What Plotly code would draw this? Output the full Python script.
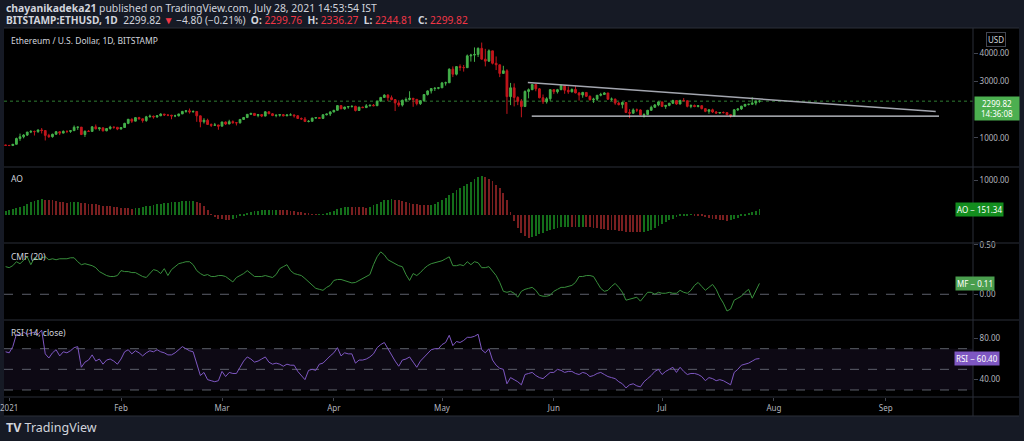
import pandas as pd
import plotly.graph_objects as go

# daily candles, Dec 31 2020 .. Jul 28 2021 (BITSTAMP:ETHUSD, 1D)
dates = pd.date_range("2020-12-31", "2021-07-28", freq="D")

closes = [
    737,
    730, 775, 979, 1041, 1100, 1208, 1225, 1224, 1281, 1262, 1090, 1044, 1130, 1218, 1171, 1233,
    1230, 1257, 1377, 1382, 1121, 1236, 1231, 1392, 1324, 1357, 1253, 1332, 1382, 1377, 1314,
    1369, 1515, 1660, 1594, 1718, 1677, 1614, 1746, 1768, 1744, 1783, 1843, 1814, 1804, 1779,
    1781, 1848, 1938, 1960, 1919, 1935, 1781, 1570, 1626, 1475, 1446, 1459, 1416,
    1564, 1492, 1575, 1541, 1533, 1654, 1723, 1834, 1868, 1795, 1826, 1772, 1924, 1855, 1792,
    1806, 1823, 1782, 1812, 1813, 1784, 1687, 1669, 1582, 1588, 1702, 1717, 1691, 1819, 1846, 1919,
    1977, 2143, 2028, 2093, 2108, 2118, 1971, 2088, 2072, 2135, 2158, 2139, 2299, 2432, 2514,
    2423, 2356, 2237, 2162, 2331, 2358, 2402, 2364, 2211, 2317, 2534, 2662, 2746, 2756, 2773,
    2945, 2950, 3431, 3253, 3522, 3490, 3484, 3902, 3928, 3952, 4168, 3785, 3715, 4079, 3640,
    3586, 3282, 3374, 2460, 2772, 2430, 2295, 2109, 2643, 2706, 2888, 2736, 2420, 2278, 2387, 2707,
    2634, 2706, 2856, 2688, 2630, 2715, 2590, 2517, 2608, 2472, 2353, 2372, 2508, 2537, 2590,
    2369, 2373, 2231, 2178, 2253, 1900, 1874, 1990, 1989, 1814, 1829, 1978, 2084, 2165, 2274,
    2114, 2150, 2226, 2321, 2198, 2324, 2315, 2116, 2146, 2111, 2140, 2036, 1940, 1995,
    1917, 1880, 1899, 1896, 1822, 1787, 1994, 2025, 2124, 2188, 2190, 2232, 2299.76, 2299.82,
]

highs = [
    754,
    749, 787, 1011, 1153, 1134, 1210, 1280, 1262, 1300, 1349, 1262, 1145, 1150, 1245, 1235, 1265,
    1260, 1265, 1440, 1395, 1383, 1262, 1278, 1420, 1475, 1365, 1362, 1345, 1430, 1395, 1385,
    1375, 1535, 1665, 1690, 1734, 1746, 1680, 1780, 1825, 1788, 1798, 1873, 1850, 1820, 1815,
    1820, 1850, 1955, 1972, 2040, 1975, 1940, 1785, 1700, 1680, 1512, 1530, 1462,
    1573, 1580, 1642, 1620, 1548, 1670, 1735, 1837, 1870, 1875, 1840, 1838, 1940, 1930, 1880,
    1815, 1835, 1845, 1830, 1870, 1825, 1810, 1723, 1740, 1630, 1711, 1730, 1737, 1838, 1852, 1945,
    1990, 2155, 2145, 2100, 2120, 2150, 2135, 2100, 2105, 2197, 2165, 2200, 2315, 2450, 2545,
    2547, 2500, 2360, 2330, 2355, 2430, 2650, 2410, 2372, 2328, 2544, 2680, 2760, 2795, 2798,
    2980, 2990, 3460, 3530, 3540, 3600, 3580, 3950, 3975, 4200, 4200, 4372, 4150, 4130, 4080,
    3880, 3590, 3550, 3430, 2945, 2930, 2475, 2375, 2680, 2750, 2910, 2890, 2760, 2535, 2440, 2720,
    2720, 2735, 2895, 2860, 2820, 2750, 2840, 2620, 2630, 2620, 2500, 2420, 2515, 2595, 2620,
    2590, 2430, 2390, 2270, 2280, 2260, 2020, 2045, 2040, 2010, 1870, 1990, 2140, 2200, 2290,
    2275, 2155, 2240, 2350, 2325, 2350, 2410, 2320, 2190, 2180, 2160, 2160, 2040, 2000,
    2035, 1950, 1915, 1935, 1905, 1830, 2020, 2045, 2135, 2200, 2195, 2440, 2320, 2336.27,
]

lows = [
    714,
    716, 715, 771, 897, 985, 1067, 1170, 1085, 1177, 1158, 910, 1000, 1010, 1118, 1100, 1160,
    1170, 1180, 1250, 1285, 1100, 1035, 1215, 1220, 1300, 1255, 1225, 1235, 1290, 1325, 1275,
    1296, 1355, 1487, 1530, 1590, 1643, 1540, 1570, 1725, 1681, 1710, 1770, 1775, 1770, 1660,
    1735, 1760, 1846, 1890, 1860, 1906, 1570, 1375, 1508, 1465, 1385, 1427, 1290,
    1410, 1455, 1488, 1500, 1440, 1510, 1640, 1700, 1820, 1785, 1730, 1735, 1765, 1850, 1770,
    1730, 1755, 1765, 1770, 1805, 1720, 1676, 1652, 1570, 1550, 1588, 1685, 1680, 1680, 1797, 1775,
    1904, 1970, 2020, 1998, 2033, 2075, 1936, 1962, 2055, 2063, 2116, 2120, 2139, 2290, 2420,
    2300, 2330, 1950, 2100, 2110, 2265, 2325, 2100, 2150, 2165, 2283, 2500, 2570, 2660, 2720,
    2770, 2850, 2950, 3150, 3210, 3375, 3345, 3480, 3700, 3690, 3860, 3770, 3530, 3690, 3600,
    3400, 3150, 3270, 1850, 2160, 2115, 2160, 1730, 2100, 2400, 2690, 2650, 2400, 2200, 2215, 2310,
    2550, 2570, 2690, 2560, 2560, 2610, 2580, 2320, 2420, 2450, 2320, 2240, 2310, 2470, 2520,
    2350, 2310, 2170, 2150, 2045, 1880, 1700, 1860, 1915, 1800, 1720, 1810, 1955, 2065, 2120,
    2090, 2030, 2120, 2200, 2170, 2190, 2300, 2080, 2050, 2085, 2080, 2010, 1910, 1855,
    1885, 1855, 1860, 1865, 1805, 1718, 1760, 1950, 1990, 2110, 2150, 2180, 2155, 2244.81,
]

first_open = 751
opens = [first_open] + closes[:-1]  # each daily bar opens at the previous close

ao_values = [
    120, 140, 170, 200, 220, 260, 310, 360, 400, 420,
    440, 435, 425, 410, 395, 380, 365, 350, 352, 356,
    358, 345, 330, 320, 305, 295, 280, 265, 250, 240,
    225, 210, 200, 190, 180, 175, 185, 200, 220, 240,
    260, 285, 305, 320, 335, 350, 362, 372, 380, 385,
    388, 390, 392, 380, 330, 240, 130, 20, -60, -110,
    -135, -145, -150, -130, -90, -50, -10, 30, 70, 100,
    115, 125, 130, 133, 135, 137, 136, 132, 125, 115,
    100, 85, 65, 45, 25, 10, 2, 5, 20, 45,
    75, 110, 150, 190, 220, 230, 225, 220, 215, 210,
    205, 230, 270, 320, 370, 410, 435, 445, 430, 410,
    390, 370, 345, 320, 300, 285, 272, 268, 285, 320,
    370, 430, 490, 560, 630, 700, 760, 820, 880, 950,
    1020, 1080, 1130, 1100, 1040, 960, 870, 760, 620, 420,
    70, -180, -380, -520, -620, -660, -650, -620, -570, -520,
    -470, -430, -400, -380, -360, -355, -350, -355, -360, -350,
    -345, -350, -360, -375, -390, -405, -420, -435, -445, -455,
    -465, -475, -485, -492, -498, -502, -505, -500, -480, -440,
    -390, -330, -270, -210, -160, -110, -70, -40, -20, -10,
    -5, -15, -30, -50, -70, -90, -110, -130, -150, -165,
    -175, -160, -130, -90, -50, -10, 30, 70, 110, 151.34,
]

cmf_values = [
    0.28, 0.27, 0.29, 0.33, 0.31, 0.35, 0.38, 0.30, 0.37, 0.35,
    0.37, 0.38, 0.35, 0.36, 0.35, 0.36, 0.36, 0.36, 0.37, 0.37,
    0.33, 0.30, 0.31, 0.30, 0.29, 0.27, 0.23, 0.21, 0.19, 0.18,
    0.18, 0.19, 0.24, 0.23, 0.23, 0.22, 0.22, 0.20, 0.18, 0.17,
    0.21, 0.25, 0.24, 0.21, 0.26, 0.19, 0.25, 0.28, 0.31, 0.32,
    0.33, 0.33, 0.30, 0.24, 0.21, 0.19, 0.20, 0.18, 0.18, 0.19,
    0.19, 0.18, 0.15, 0.125, 0.17, 0.19, 0.21, 0.24, 0.21, 0.18,
    0.18, 0.18, 0.19, 0.18, 0.17, 0.20, 0.26, 0.28, 0.30, 0.24,
    0.21, 0.20, 0.19, 0.16, 0.125, 0.09, 0.06, 0.05, 0.04, 0.07,
    0.09, 0.14, 0.15, 0.15, 0.14, 0.13, 0.115, 0.12, 0.14, 0.16,
    0.18, 0.20, 0.30, 0.38, 0.43, 0.40, 0.35, 0.33, 0.31, 0.29,
    0.28, 0.20, 0.14, 0.21, 0.19, 0.22, 0.26, 0.29, 0.31, 0.32,
    0.33, 0.34, 0.36, 0.38, 0.29, 0.29, 0.30, 0.29, 0.33, 0.30,
    0.33, 0.32, 0.27, 0.27, 0.28, 0.24, 0.19, 0.12, 0.03, 0.02,
    0.03, 0.01, -0.03, 0.03, 0.05, 0.06, 0.07, 0.04, -0.01, -0.02,
    -0.02, -0.01, 0.03, 0.05, 0.07, 0.07, 0.08, 0.09, 0.12, 0.18,
    0.18, 0.19, 0.19, 0.18, 0.12, 0.06, 0.03, 0.04, 0.08, 0.11,
    0.07, 0.02, -0.06, -0.05, -0.04, -0.03, -0.07, -0.02, 0.02, 0.02,
    0.00, 0.02, 0.01, 0.01, 0.02, 0.01, 0.01, 0.04, 0.02, 0.01,
    0.04, 0.09, 0.12, 0.08, 0.04, 0.07, 0.10, 0.05, -0.03, -0.09,
    -0.17, -0.15, -0.06, -0.04, -0.02, 0.02, 0.05, -0.04, 0.03, 0.11,
]

rsi_values = [
    67, 66, 72, 84, 83, 86, 84, 85, 86, 84,
    88, 65, 61, 66, 69, 63, 67, 66, 68, 71,
    72, 52, 57, 59, 64, 58, 60, 55, 59, 60,
    58, 55, 60, 67, 69, 65, 68, 66, 63, 66,
    68, 67, 69, 67, 66, 64, 64, 66, 69, 72,
    70, 68, 67, 56, 44, 47, 40, 39, 38, 39,
    48, 43, 47, 46, 46, 52, 58, 62, 60, 57,
    58, 60, 62, 57, 55, 56, 55, 53, 55, 54,
    54, 48, 44, 40, 49, 50, 49, 55, 56, 60,
    63, 66, 71, 63, 66, 65, 65, 56, 59, 59,
    60, 62, 65, 71, 74, 76, 70, 63, 58, 53,
    59, 60, 62, 57, 52, 58, 62, 66, 69, 70,
    70, 74, 76, 83, 73, 77, 76, 78, 81, 81,
    82, 84, 69, 66, 70, 59, 54, 51, 50, 36,
    42, 40, 38, 35, 45, 46, 47, 44, 42, 41,
    44, 47, 47, 50, 49, 47, 48, 48, 46, 45,
    47, 46, 43, 44, 46, 47, 45, 43, 42, 41,
    38, 36, 32, 35, 36, 34, 33, 38, 41, 44,
    48, 50, 45, 48, 50, 52, 47, 52, 48, 45,
    46, 46, 45, 43, 39, 42, 41, 39, 40, 39,
    37, 35, 47, 50, 54, 55, 56, 58, 60, 60.4,
]

# descending triangle drawn on the price pane
resistance_dates = ["2021-05-24 19:00", "2021-09-14 21:00"]
resistance_prices = [2958, 1931]
support_dates = ["2021-05-25 21:00", "2021-09-15 19:00"]
support_prices = [1768, 1768]

last_price = 2299.82
last_ao = ao_values[-1]
last_cmf = cmf_values[-1]
last_rsi = rsi_values[-1]

price_ticks = [1000, 3000, 4000]
ao_ticks = [1000]
cmf_ticks = [0, 0.5]
rsi_ticks = [40, 80]
rsi_levels = [30, 50, 70]

month_dates = ["2021-01-01", "2021-02-01", "2021-03-01", "2021-04-01", "2021-05-01",
               "2021-06-01", "2021-07-01", "2021-08-01", "2021-09-01"]
month_labels = ["2021", "Feb", "Mar", "Apr", "May", "Jun", "Jul", "Aug", "Sep"]

GREEN = "#44b04a"
RED = "#c4161c"
AO_GREEN = "#146e1a"
AO_RED = "#7a1f20"
TEXT = "#d1d4dc"
AXIS_TEXT = "#b2b5be"
PANE_LINE = "#2a2e39"
FONT = "Noto Sans"

W, H = 1024, 441
L, R, T, B = 4, 51, 28, 44
PW, PH = W - L - R, H - T - B


def px(x):
    return (x - L) / PW


def py(y):
    return (H - B - y) / PH


ao_colors = []
for i, v in enumerate(ao_values):
    if i == 0 or v >= ao_values[i - 1]:
        ao_colors.append(AO_GREEN)
    else:
        ao_colors.append(AO_RED)

fig = go.Figure()

fig.add_trace(go.Candlestick(
    x=dates, open=opens, high=highs, low=lows, close=closes,
    increasing=dict(line=dict(color=GREEN, width=1), fillcolor=GREEN),
    decreasing=dict(line=dict(color=RED, width=1), fillcolor=RED),
    whiskerwidth=0, hoverinfo="skip", xaxis="x", yaxis="y",
))
fig.add_trace(go.Scatter(x=resistance_dates, y=resistance_prices, mode="lines",
                         line=dict(color="#a3a6af", width=1.5), hoverinfo="skip", yaxis="y"))
fig.add_trace(go.Scatter(x=support_dates, y=support_prices, mode="lines",
                         line=dict(color="#d1d4dc", width=1.2), hoverinfo="skip", yaxis="y"))

fig.add_trace(go.Bar(x=dates, y=ao_values, marker=dict(color=ao_colors, line=dict(width=0)),
                     width=0.24 * 86400000, hoverinfo="skip", yaxis="y2"))

fig.add_trace(go.Scatter(x=dates, y=cmf_values, mode="lines",
                         line=dict(color="#388e3c", width=1), hoverinfo="skip", yaxis="y3"))

fig.add_trace(go.Scatter(x=dates, y=rsi_values, mode="lines",
                         line=dict(color="#7e57c2", width=1), hoverinfo="skip", yaxis="y4"))

shapes = []
# chart background incl. axis strips
shapes.append(dict(type="rect", xref="paper", yref="paper", x0=0, x1=px(1019), y0=py(416), y1=1,
                   fillcolor="#000000", line=dict(width=0), layer="below"))
# rsi band
shapes.append(dict(type="rect", xref="paper", yref="y4", x0=0, x1=1, y0=rsi_levels[0], y1=rsi_levels[2],
                   fillcolor="rgba(126,87,194,0.10)", line=dict(width=0), layer="below"))
for lvl in rsi_levels:
    shapes.append(dict(type="line", xref="paper", yref="y4", x0=0, x1=1, y0=lvl, y1=lvl,
                       line=dict(color="#5d606b", width=1, dash="dash"), layer="below"))
shapes.append(dict(type="line", xref="paper", yref="y3", x0=0, x1=1, y0=0, y1=0,
                   line=dict(color="#5d606b", width=1, dash="dash"), layer="below"))
shapes.append(dict(type="line", xref="paper", yref="y", x0=0, x1=1, y0=last_price, y1=last_price,
                   line=dict(color="#2f7d33", width=1, dash="dot"), layer="below"))
# pane separators and axis borders
for yy in [28, 167, 243, 320, 397, 416]:
    shapes.append(dict(type="line", xref="paper", yref="paper", x0=0, x1=px(1019), y0=py(yy), y1=py(yy),
                       line=dict(color=PANE_LINE, width=1)))
shapes.append(dict(type="line", xref="paper", yref="paper", x0=1, x1=1, y0=py(416), y1=1,
                   line=dict(color=PANE_LINE, width=1)))

red = "#f23645"
header2 = ("<b>BITSTAMP:ETHUSD, 1D</b>  2299.82 <span style='color:%s'>▼</span> −4.80 (−0.21%%)  "
           "<b>O:</b> <span style='color:%s'>2299.76</span>  <b>H:</b> <span style='color:%s'>2336.27</span>  "
           "<b>L:</b> <span style='color:%s'>2244.81</span>  <b>C:</b> <span style='color:%s'>2299.82</span>"
           % (red, red, red, red, red))

ann = [
    dict(x=px(4), y=py(8), text="<b>chayanikadeka21</b> published on TradingView.com, July 28, 2021 14:53:54 IST",
         font=dict(size=10.4, color=TEXT)),
    dict(x=px(4), y=py(20), text=header2, font=dict(size=10.2, color=TEXT)),
    dict(x=px(9), y=py(41), text="Ethereum / U.S. Dollar, 1D, BITSTAMP", font=dict(size=8.5, color=TEXT)),
    dict(x=px(9), y=py(178), text="AO", font=dict(size=8.5, color=TEXT)),
    dict(x=px(9), y=py(256), text="CMF (20)", font=dict(size=8.5, color=TEXT)),
    dict(x=px(9), y=py(332), text="RSI (14, close)", font=dict(size=8.5, color=TEXT)),
    dict(x=px(4), y=py(428), text="<b>TV</b> TradingView", font=dict(size=12.5, color=TEXT)),
]
for a in ann:
    a.update(xref="paper", yref="paper", xanchor="left", yanchor="middle", showarrow=False)

ann.append(dict(xref="paper", yref="paper", x=px(996), y=py(40), text="USD", showarrow=False,
                font=dict(size=8, color=TEXT), bordercolor="#434651", borderwidth=1, borderpad=1,
                xanchor="center", yanchor="middle"))
ann.append(dict(xref="paper", yref="y", x=px(974), y=last_price, yshift=5,
                text="%.2f<br>14:36:08" % last_price, showarrow=False,
                font=dict(size=8, color="#ffffff"), bgcolor="#4caf50", borderpad=1, width=42,
                xanchor="left", yanchor="top"))
ann.append(dict(xref="paper", yref="y2", x=px(955), y=last_ao, text="AO − %.2f" % last_ao,
                showarrow=False, font=dict(size=8, color="#ffffff"), bgcolor="#138d1e", borderpad=1,
                xanchor="left", yanchor="middle"))
ann.append(dict(xref="paper", yref="y3", x=px(955), y=last_cmf, text="MF − %.2f" % last_cmf,
                showarrow=False, font=dict(size=8, color="#ffffff"), bgcolor="#4a9e4e", borderpad=1,
                xanchor="left", yanchor="middle"))
ann.append(dict(xref="paper", yref="y4", x=px(954), y=last_rsi, text="RSI − %.2f" % last_rsi,
                showarrow=False, font=dict(size=8, color="#ffffff"), bgcolor="#7e57c2", borderpad=1,
                xanchor="left", yanchor="middle"))

yax = dict(side="right", showgrid=False, zeroline=False, showline=False, ticks="outside", ticklen=4,
           tickcolor="#434651", tickfont=dict(size=8, color=AXIS_TEXT), automargin=False,
           fixedrange=True)

fig.update_layout(
    width=W, height=H,
    margin=dict(l=L, r=R, t=T, b=B),
    paper_bgcolor="#161a25",
    plot_bgcolor="#000000",
    font=dict(family=FONT, color=TEXT),
    showlegend=False,
    bargap=0,
    xaxis=dict(type="date", range=["2020-12-30 13:26", "2021-09-25 05:00"], anchor="y4",
               tickvals=month_dates, ticktext=month_labels, ticks="outside", ticklen=3,
               tickcolor="#434651", tickfont=dict(size=8, color=AXIS_TEXT), showgrid=False,
               zeroline=False, showline=False, rangeslider=dict(visible=False), automargin=False,
               fixedrange=True),
    yaxis=dict(domain=[py(167), 1], range=[-28, 4887], tickvals=price_ticks,
               ticktext=["%.2f" % v for v in price_ticks], anchor="x", **yax),
    yaxis2=dict(domain=[py(243), py(167)], range=[-816, 1375], tickvals=ao_ticks,
                ticktext=["%.2f" % v for v in ao_ticks], anchor="x", **yax),
    yaxis3=dict(domain=[py(320), py(243)], range=[-0.261, 0.52], tickvals=cmf_ticks,
                ticktext=["%.2f" % v for v in cmf_ticks], anchor="x", **yax),
    yaxis4=dict(domain=[0, py(320)], range=[23.2, 97.8], tickvals=rsi_ticks,
                ticktext=["%.2f" % v for v in rsi_ticks], anchor="x", **yax),
    shapes=shapes,
    annotations=ann,
)

# the page's default body margin would push the figure 8px right and down
fig.write_html("out.html", config={"displayModeBar": False},
               post_script="document.body.style.margin='0';")
